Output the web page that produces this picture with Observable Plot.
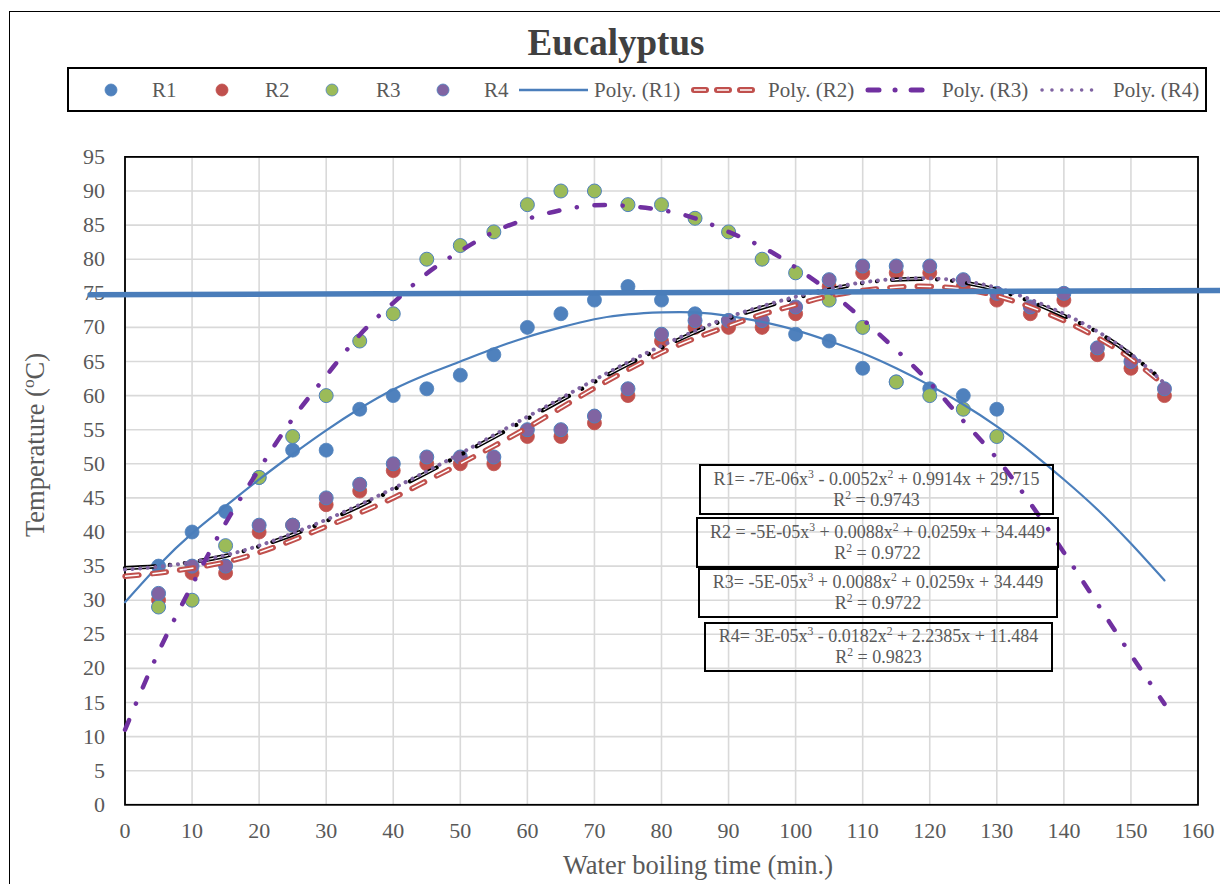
<!DOCTYPE html>
<html><head><meta charset="utf-8">
<script src="https://cdn.jsdelivr.net/npm/d3@7"></script>
<script src="https://cdn.jsdelivr.net/npm/@observablehq/plot@0.6"></script>
<style>
html,body{margin:0;padding:0;background:#fff;}
#wrap{position:relative;width:1220px;height:884px;overflow:hidden;font-family:"Liberation Serif","Times New Roman",serif;color:#595959;}
#border{position:absolute;left:9px;top:11px;width:1400px;height:1000px;border:1.5px solid #000;box-sizing:border-box;}
#chart{position:absolute;left:0;top:0;}
#title{position:absolute;left:0;width:1232px;top:20px;text-align:center;font-weight:bold;font-size:37px;line-height:46px;color:#404040;}
#legend{position:absolute;left:67px;top:67px;width:1140px;height:45px;border:2px solid #000;box-sizing:border-box;}
#swatches{position:absolute;left:0;top:0;}
.lt{position:absolute;top:78px;font-size:21px;line-height:24px;white-space:nowrap;color:#595959;}
.eq{position:absolute;border:2px solid #000;box-sizing:border-box;display:flex;flex-direction:column;justify-content:center;align-items:center;font-size:18px;line-height:21px;color:#595959;white-space:nowrap;}
sup{font-size:65%;vertical-align:super;line-height:0;}
.axt{position:absolute;font-size:26.5px;line-height:30px;text-align:center;white-space:nowrap;color:#595959;}
</style></head>
<body>
<div id="wrap">
  <div id="border"></div>
  <div id="chart"></div>
  <div id="title">Eucalyptus</div>
  <div id="legend"></div>
  <svg id="swatches" width="1220" height="130"></svg>
  <div class="axt" id="ytitle" style="left:-115px;top:430px;width:300px;transform:rotate(-90deg);">Temperature (<sup>o</sup>C)</div>
  <div class="axt" id="xtitle" style="left:448px;top:850px;width:500px;">Water boiling time (min.)</div>
</div>
<script>
// ---- data ----
const time = [5,10,15,20,25,30,35,40,45,50,55,60,65,70,75,80,85,90,95,100,105,110,115,120,125,130,135,140,145,150,155];
const r1 = [35,40,43,48,52,52,58,60,61,63,66,70,72,74,76,74,72,71,71,69,68,64,62,61,60,58];
const r2 = [30,34,34,40,41,44,46,49,50,50,50,54,54,56,60,68,70,70,70,72,76,78,78,78,76,74,72,74,66,64,60];
const r3 = [29,30,38,48,54,60,68,72,80,82,84,88,90,90,88,88,86,84,80,78,74,70,62,60,58,54];
const r4 = [31,35,35,41,41,45,47,50,51,51,51,55,55,57,61,69,71,71,71,73,77,79,79,79,77,75,73,75,67,65,61];

const fitTime = [0,5,10,15,20,25,30,35,40,45,50,55,60,65,70,75,80,85,90,95,100,105,110,115,120,125,130,135,140,145,150,155];
const fitR1 = [29.7,35.1,39.8,43.8,47.7,51.4,54.9,58.1,60.9,63.1,65.0,66.9,68.6,70.0,71.2,71.9,72.2,72.2,71.7,70.8,69.6,68.0,66.2,64.0,61.5,58.7,55.5,51.8,47.7,43.3,38.3,32.9];
const fitR2 = [33.5,34.0,34.7,35.6,37.0,38.8,40.8,42.8,45.0,47.5,50.0,52.6,55.3,58.2,61.1,63.8,66.3,68.4,70.2,71.9,73.3,74.6,75.4,75.9,76.0,75.6,74.6,73.0,71.0,68.5,65.4,61.5];
const fitR3 = [11.0,22.4,32.2,41.3,49.2,56.6,62.9,68.9,73.6,77.9,81.2,84.0,85.9,87.2,87.9,87.8,87.2,86.0,84.0,81.8,78.8,75.3,71.2,66.7,61.9,56.3,50.8,44.2,37.0,29.5,22.0,14.8];
const fitR4 = [34.5,34.9,35.6,36.6,38.0,39.8,41.8,44.0,46.4,48.9,51.5,54.2,56.9,59.6,62.3,64.9,67.3,69.5,71.5,73.1,74.5,75.7,76.6,77.1,77.2,76.8,75.8,74.1,72.0,69.4,66.1,61.8];
const fitBlack = [34.7,35.0,35.6,36.5,37.9,39.6,41.6,43.8,46.2,48.7,51.3,53.9,56.6,59.3,62.0,64.6,67.0,69.3,71.3,72.9,74.3,75.5,76.5,77.0,77.1,76.6,75.5,73.8,71.7,69.3,66.0,62.0];

const hLineX = [-5.2, 163.7];
const hLineY = [74.77, 75.40];

const xTicks = [0,10,20,30,40,50,60,70,80,90,100,110,120,130,140,150,160];
const yTicks = [0,5,10,15,20,25,30,35,40,45,50,55,60,65,70,75,80,85,90,95];

const seriesNames = ["R1","R2","R3","R4"];
const fitNames = ["Poly. (R1)","Poly. (R2)","Poly. (R3)","Poly. (R4)"];
const equations = [
  ["R1= -7E-06x<sup>3</sup> - 0.0052x<sup>2</sup> + 0.9914x + 29.715", "R<sup>2</sup> = 0.9743"],
  ["R2 = -5E-05x<sup>3</sup> + 0.0088x<sup>2</sup> + 0.0259x + 34.449", "R<sup>2</sup> = 0.9722"],
  ["R3= -5E-05x<sup>3</sup> + 0.0088x<sup>2</sup> + 0.0259x + 34.449", "R<sup>2</sup> = 0.9722"],
  ["R4= 3E-05x<sup>3</sup> - 0.0182x<sup>2</sup> + 2.2385x + 11.484", "R<sup>2</sup> = 0.9823"]
];

// ---- styles ----
const C = {blue:"#4f81bd", red:"#c0504d", green:"#9bbb59", purple:"#8064a2", violet:"#7030a0"};
const rows = (xs, ys) => ys.map((y, i) => ({x: xs[i], y}));

const chart = Plot.plot({
  width: 1220, height: 884,
  marginLeft: 124.5, marginRight: 22.5, marginTop: 156.4, marginBottom: 79.7,
  x: {domain: [0, 160]},
  y: {domain: [0, 95]},
  style: {background: "transparent", fontFamily: "'Liberation Serif', 'Times New Roman', serif", fontSize: "22px", color: "#595959", overflow: "visible"},
  marks: [
    Plot.gridX(xTicks, {stroke: "#d9d9d9", strokeOpacity: 1, strokeWidth: 1.6}),
    Plot.gridY(yTicks, {stroke: "#d9d9d9", strokeOpacity: 1, strokeWidth: 1.6}),
    Plot.axisX(xTicks, {tickSize: 0, tickPadding: 18, label: null, fontSize: 22}),
    Plot.axisY(yTicks, {tickSize: 0, tickPadding: 20, label: null, fontSize: 22}),
    Plot.frame({stroke: "#000", strokeWidth: 1.8}),
    Plot.dot(rows(time, r1), {x: "x", y: "y", r: 7, fill: C.blue, stroke: C.blue, strokeWidth: 0.8}),
    Plot.dot(rows(time, r2), {x: "x", y: "y", r: 7, fill: C.red, stroke: C.red, strokeWidth: 0.8}),
    Plot.dot(rows(time, r3), {x: "x", y: "y", r: 7, fill: C.green, stroke: C.blue, strokeWidth: 1}),
    Plot.dot(rows(time, r4), {x: "x", y: "y", r: 7, fill: C.purple, stroke: C.blue, strokeWidth: 1}),
    Plot.line(rows(fitTime, fitR1), {x: "x", y: "y", stroke: "#4a7ebb", strokeWidth: 2.2, curve: "natural"}),
    Plot.line(rows(fitTime, fitR2), {x: "x", y: "y", stroke: C.red, strokeWidth: 5.5, strokeDasharray: "14,13.5", strokeLinecap: "round", curve: "natural"}),
    Plot.line(rows(fitTime, fitR2), {x: "x", y: "y", stroke: "#fff", strokeWidth: 1.5, strokeDasharray: "14,13.5", strokeLinecap: "butt", curve: "natural"}),
    Plot.line(rows(fitTime, fitBlack), {x: "x", y: "y", stroke: "#000", strokeWidth: 4.2, strokeDasharray: "30,15,0.1,15,0.1,15", strokeLinecap: "round", curve: "natural"}),
    Plot.line(rows(fitTime, fitBlack), {x: "x", y: "y", stroke: "#fff", strokeWidth: 1.1, strokeDasharray: "28,47.2", strokeDashoffset: -1, strokeLinecap: "butt", curve: "natural"}),
    Plot.line(rows(fitTime, fitR4), {x: "x", y: "y", stroke: C.purple, strokeWidth: 4, strokeDasharray: "0.1,7.5", strokeLinecap: "round", curve: "natural"}),
    Plot.line(rows(fitTime, fitR3), {x: "x", y: "y", stroke: C.violet, strokeWidth: 4.5, strokeDasharray: "10.5,17.7,0.1,17.7", strokeLinecap: "round", curve: "natural"}),
    Plot.line(rows(hLineX, hLineY), {x: "x", y: "y", stroke: "#4a7dba", strokeWidth: 5.5})
  ]
});
document.getElementById("chart").appendChild(chart);

// ---- legend ----
const wrap = document.getElementById("wrap");
const legendText = [
  {t: seriesNames[0], left: 152}, {t: seriesNames[1], left: 265}, {t: seriesNames[2], left: 376}, {t: seriesNames[3], left: 484},
  {t: fitNames[0], left: 594}, {t: fitNames[1], left: 768}, {t: fitNames[2], left: 942}, {t: fitNames[3], left: 1113}
];
legendText.forEach(d => {
  const s = document.createElement("span");
  s.className = "lt"; s.textContent = d.t; s.style.left = d.left + "px";
  wrap.appendChild(s);
});
const sw = d3.select("#swatches");
const ly = 90;
[[111, C.blue, C.blue], [222, C.red, C.red], [332, C.green, C.blue], [443, C.purple, C.blue]].forEach(([cx, f, s]) => {
  sw.append("circle").attr("cx", cx).attr("cy", ly).attr("r", 6).attr("fill", f).attr("stroke", s).attr("stroke-width", 0.8);
});
sw.append("line").attr("x1", 519).attr("x2", 588).attr("y1", ly).attr("y2", ly).attr("stroke", "#4a7ebb").attr("stroke-width", 2.5);
sw.append("line").attr("x1", 694).attr("x2", 752).attr("y1", ly).attr("y2", ly).attr("stroke", C.red).attr("stroke-width", 6).attr("stroke-dasharray", "12,11").attr("stroke-linecap", "round");
sw.append("line").attr("x1", 694).attr("x2", 752).attr("y1", ly).attr("y2", ly).attr("stroke", "#fff").attr("stroke-width", 1.6).attr("stroke-dasharray", "12,11");
sw.append("line").attr("x1", 868).attr("x2", 922.2).attr("y1", ly).attr("y2", ly).attr("stroke", C.violet).attr("stroke-width", 5).attr("stroke-dasharray", "11,16,0.1,16").attr("stroke-linecap", "round");
sw.append("line").attr("x1", 1042).attr("x2", 1101).attr("y1", ly).attr("y2", ly).attr("stroke", C.purple).attr("stroke-width", 3.5).attr("stroke-dasharray", "0.1,9.8").attr("stroke-linecap", "round");

// ---- equation boxes ----
const boxes = [
  {left: 699, top: 464, w: 355, h: 51},
  {left: 696, top: 517, w: 363, h: 51},
  {left: 698, top: 568, w: 360, h: 50},
  {left: 704, top: 622, w: 349, h: 50}
];
boxes.forEach((b, i) => {
  const d = document.createElement("div");
  d.className = "eq";
  Object.assign(d.style, {left: b.left + "px", top: b.top + "px", width: b.w + "px", height: b.h + "px"});
  d.innerHTML = `<div>${equations[i][0]}</div><div>${equations[i][1]}</div>`;
  wrap.appendChild(d);
});
</script>
</body></html>
